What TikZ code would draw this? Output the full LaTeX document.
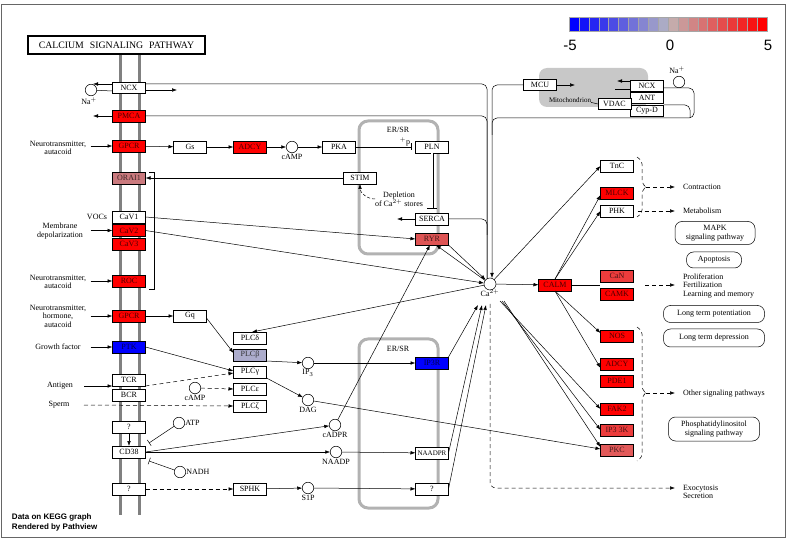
\documentclass[tikz,border=0pt]{standalone}
\usepackage{fontspec}
\setmainfont{Liberation Serif}
\newfontfamily\keggsans{Liberation Sans}
\usetikzlibrary{positioning}
\usetikzlibrary{calc}
\usetikzlibrary{arrows.meta}
\definecolor{upred}{RGB}{255,0,0}
\definecolor{midred}{RGB}{222,84,84}
\definecolor{rosered}{RGB}{202,122,126}
\definecolor{lightred}{RGB}{226,90,90}
\definecolor{canred}{RGB}{236,60,60}
\definecolor{downblue}{RGB}{0,0,255}
\definecolor{lavender}{RGB}{172,172,204}
\definecolor{keymid}{RGB}{190,190,190}
\definecolor{ergray}{RGB}{178,178,178}
\definecolor{mitogray}{RGB}{200,200,200}
\tikzset{
	>={Latex[length=5pt,width=3.6pt]},
	every node/.style={font=\fontsize{8}{8.6}\selectfont,inner sep=0pt,outer sep=0pt},
	every path/.style={line width=0.5pt},
	gene/.style={draw,fill=white,minimum width=33pt,minimum height=12pt},
	hit/.style={gene,fill=#1,text=#1!30!black},
	cpd/.style={circle,draw,fill=white,minimum size=11.5pt},
	cpdlabel/.style={label={[label distance=1pt]below:#1}},
	membrane/.style={draw=gray,line width=3pt},
	ersr/.style={draw=ergray,line width=3pt,rounded corners=9pt},
	pathbox/.style={draw,rounded corners=7pt,align=center},
	outcome/.style={align=left,anchor=west},
	bracket/.style={dashed,dash pattern=on 4pt off 3pt,rounded corners=3pt},
	inhibit/.style={-{Bar[width=7pt]}},
	indirect/.style={->,dashed,dash pattern=on 4pt off 3pt}
}

\begin{document}
\begin{tikzpicture}[x=1pt,y=-1pt]
	\useasboundingbox (0,0) rectangle (788,540);
	% Frame, title and colour key
	\draw[black!60,line width=1pt] (1,5) rectangle (785,537);
	\node (title) [draw,line width=1.5pt,minimum width=177pt,minimum height=18pt,font=\fontsize{9.8}{10}\selectfont] at (116.5,45) {CALCIUM\hspace{3.5pt} SIGNALING\hspace{3.5pt} PATHWAY};
	\foreach \i in {0,...,19}{
		\ifnum\i<10
			\pgfmathtruncatemacro{\p}{100-10*\i}
			\colorlet{keycol}{downblue!\p!keymid}
		\else
			\pgfmathtruncatemacro{\p}{10*(\i-9)}
			\colorlet{keycol}{upred!\p!keymid}
		\fi
		\draw[black!35,line width=0.3pt,fill=keycol] (569+9.9*\i,17) rectangle ++(9.9,14);
	}
	\node (keyneg) [font=\keggsans\fontsize{15}{15}\selectfont] at (570,45) {-5};
	\node (keyzero) [font=\keggsans\fontsize{15}{15}\selectfont] at (670,45) {0};
	\node (keypos) [font=\keggsans\fontsize{15}{15}\selectfont] at (768,45) {5};
	\node (credit) [anchor=north west,align=left,font=\keggsans\bfseries\fontsize{8}{10}\selectfont] at (12,514) {Data on KEGG graph\\Rendered by Pathview};

	% Membrane and compartments
	\draw[membrane] (120,55) -- (120,515);
	\draw[membrane] (139,55) -- (139,515);
	\draw[ersr] (359,121) rectangle (438,254);
	\draw[ersr] (359,339) rectangle (438,508);
	\node (erone) at (398,130) {ER/SR};
	\node (ertwo) at (398,349) {ER/SR};
	\fill[mitogray,rounded corners=8pt] (539,68) rectangle (648,107);
	\node (mito) [font=\fontsize{7}{7}\selectfont] at (570,100) {Mitochondrion};

	% Membrane proteins
	\node (ncx) [gene,minimum height=11pt] at (129,88) {NCX};
	\node (pmca) [hit=upred] at (129,116) {PMCA};
	\node (gpcra) [hit=upred] at (129,146) {GPCR};
	\node (orai) [hit=rosered] at (129,178) {ORAI1};
	\node (cavone) [gene] at (129,217) {CaV1};
	\node (cavtwo) [hit=upred,below=1.5pt of cavone] {CaV2};
	\node (cavthree) [hit=upred,below=1.5pt of cavtwo] {CaV3};
	\node (roc) [hit=upred] at (129,281) {ROC};
	\node (gpcrb) [hit=upred] at (129,316) {GPCR};
	\node (ptk) [hit=downblue] at (129,347) {PTK};
	\node (tcr) [gene] at (129,380) {TCR};
	\node (bcr) [gene,below=3pt of tcr] {BCR};
	\node (qa) [gene] at (129,427) {?};
	\node (cd) [gene] at (129,452) {CD38};
	\node (qb) [gene] at (129,489) {?};
	\node (naa) [cpd] at (91,90) {};
	\node (naalbl) at (89,101) {Na$^{+}$};

	% Stimuli
	\node (stima) [align=center] at (58,148) {Neurotransmitter,\\autacoid};
	\node (vocs) at (97,217) {VOCs};
	\node (depol) [align=center] at (60,231) {Membrane\\depolarization};
	\node (stimb) [align=center] at (58,282) {Neurotransmitter,\\autacoid};
	\node (stimc) [align=center] at (58,316) {Neurotransmitter,\\hormone,\\autacoid};
	\node (growth) at (58,347) {Growth factor};
	\node (antigen) at (60,386) {Antigen};
	\node (sperm) at (59,405) {Sperm};

	% cAMP branch and ER/SR
	\node (gs) [gene] at (190,147) {Gs};
	\node (adcya) [hit=upred] at (250,147) {ADCY};
	\node (camp) [cpd,cpdlabel=cAMP] at (292,147) {};
	\node (pka) [gene] at (339,147) {PKA};
	\node (pln) [gene] at (432,147) {PLN};
	\node (plus) at (405,142) {$^{+}$p};
	\node (stim) [gene] at (360,178) {STIM};
	\node (depl) [align=center] at (399,199) {Depletion\\of Ca$^{2+}$ stores};
	\node (serca) [gene] at (432,219) {SERCA};
	\node (ryr) [hit=midred] at (432,239) {RYR};

	% PLC branch
	\node (gq) [gene] at (190,316) {Gq};
	\node (plcd) [gene] at (250,338) {PLCδ};
	\node (plcb) [hit=lavender,text=black!80,below=5pt of plcd] {PLCβ};
	\node (plcg) [gene,below=5pt of plcb] {PLCγ};
	\node (plce) [gene,below=5pt of plcg] {PLCε};
	\node (plcz) [gene,below=5pt of plce] {PLCζ};
	\node (campb) [cpd,cpdlabel=cAMP] at (195,388) {};
	\node (ip3) [cpd,cpdlabel=IP$_3$] at (308,363) {};
	\node (dag) [cpd,cpdlabel=DAG] at (308,400) {};
	\node (ip3r) [hit=downblue] at (432,363) {IP3R};

	% CD38 branch
	\node (atp) [cpd,label={[label distance=0.5pt]right:ATP}] at (179,423) {};
	\node (nadh) [cpd,label={[label distance=0.5pt]right:NADH}] at (180,472) {};
	\node (cadpr) [cpd,cpdlabel=cADPR] at (335,425) {};
	\node (naadp) [cpd,cpdlabel=NAADP] at (336,452) {};
	\node (sphk) [gene] at (250,489) {SPHK};
	\node (sip) [cpd,cpdlabel=S1P] at (308,488) {};
	\node (naadpr) [gene,font=\fontsize{7}{7}\selectfont] at (432,453) {NAADPR};
	\node (qc) [gene] at (432,489) {?};

	% Mitochondrion
	\node (mcu) [gene,minimum height=11pt] at (540,85) {MCU};
	\node (ncxm) [gene,minimum height=11pt] at (647,86) {NCX};
	\node (ant) [gene,minimum height=11pt,below=1pt of ncxm] {ANT};
	\node (cypd) [gene,minimum height=11pt,below=1.5pt of ant] {Cyp-D};
	\node (vdac) [gene,minimum height=11pt] at (614.5,104) {VDAC};
	\node (nab) [cpd] at (679,82) {};
	\node (nablbl) at (677,70) {Na$^{+}$};

	% Calcium and its targets
	\node (ca) [cpd,minimum size=12pt,label={[label distance=-0.5pt]below:Ca$^{2+}$}] at (490,284) {};
	\node (calm) [hit=upred] at (555,285) {CALM};
	\node (tnc) [gene] at (617,166) {TnC};
	\node (mlck) [hit=upred] at (617,193) {MLCK};
	\node (phk) [gene,below=6pt of mlck] {PHK};
	\node (can) [hit=canred] at (617,276) {CaN};
	\node (camk) [hit=upred,below=6pt of can] {CAMK};
	\node (nos) [hit=upred] at (617,336) {NOS};
	\node (adcyb) [hit=upred] at (617,364) {ADCY};
	\node (pde) [hit=upred,below=5pt of adcyb] {PDE1};
	\node (fak) [hit=upred] at (617,409) {FAK2};
	\node (ipk) [hit=canred,below=9pt of fak] {IP3 3K};
	\node (pkc) [hit=lightred,below=8pt of ipk] {PKC};

	% Outcomes and linked maps
	\node (contr) [outcome] at (683,187) {Contraction};
	\node (metab) [outcome] at (683,211) {Metabolism};
	\node (prolif) [outcome] at (683,286) {Proliferation\\Fertilization\\Learning and memory};
	\node (other) [outcome] at (683,394) {Other signaling pathways};
	\node (exo) [outcome] at (683,492) {Exocytosis\\Secretion};
	\node (mapk) [pathbox,minimum width=80pt,minimum height=23pt] at (715,233) {MAPK\\signaling pathway};
	\node (apop) [pathbox,minimum width=55pt,minimum height=16pt] at (714,260) {Apoptosis};
	\node (ltp) [pathbox,minimum width=101pt,minimum height=17pt] at (714,314) {Long term potentiation};
	\node (ltd) [pathbox,minimum width=101pt,minimum height=18pt] at (714,338) {Long term depression};
	\node (pis) [pathbox,minimum width=91pt,minimum height=24pt] at (714,429) {Phosphatidylinositol\\signaling pathway};

	% Free ends
	\coordinate (naout) at (93,84);
	\coordinate (caout) at (177,90);
	\coordinate (pmcaout) at (93,116);
	\coordinate (caleft) at (487,279);
	\coordinate (caright) at (492,278);
	\coordinate (mcuout) at (575,85);
	\coordinate (ncxmout) at (617,81);
	\coordinate (ncxmin) at (615,89);
	\coordinate (mitojoin) at (492,135);
	\coordinate (sercaout) at (397,219);
	\coordinate (sercajoin) at (487,235);
	\coordinate (antigenin) at (84,386);
	\coordinate (spermin) at (84,405);
	\coordinate (atpbar) at (149,443);
	\coordinate (nadhbar) at (149,461);
	\coordinate (cabota) at (478,305);
	\coordinate (cabotb) at (482,305);
	\coordinate (cabotc) at (486,305);
	\coordinate (cafana) at (500,301);
	\coordinate (cafanb) at (502,301);
	\coordinate (cafanc) at (504,301);
	\coordinate (camkjoin) at (600,285);
	\coordinate (exostart) at (490,304);
	\coordinate (exocorner) at (490,488);
	\foreach \g in {gpcra,cavtwo,roc,gpcrb,ptk}{
		\coordinate (\g in) at ([xshift=-22pt]\g.west);
		\draw[->] (\g in) -- (\g.west);
	}

	% Ion transport
	\draw[->] ([yshift=4pt]ncx.west) -- (naout);
	\draw (naa) -- ([yshift=-3pt]ncx.west);
	\draw[->] ([yshift=-2pt]ncx.east) -- (caout);
	\draw[rounded corners=5pt] ([yshift=4pt]ncx.east) -- (487,84) -- (caleft);
	\draw[->] (pmca.west) -- (pmcaout);
	\draw[rounded corners=5pt] (pmca.east) -- (487,116) -- (caleft);
	\draw[->,rounded corners=5pt] (mcu.west) -- (492,85) -- (caright);
	\draw[->] (mcu.east) -- (mcuout);
	\draw[->] ([yshift=5pt]ncxm.west) -- (ncxmout);
	\draw (ncxmin) -- ([yshift=-3pt]ncxm.west);
	\draw[rounded corners=5pt] ([yshift=-2pt]ncxm.east) -- (694,88) -- (694,118) -- (492,118) -- (mitojoin);
	\draw[rounded corners=5pt] (cypd.north east) -- (690,105) -- (690,118);
	\draw (mito.base east) -- (vdac.west);

	% cAMP branch and ER/SR
	\path (gpcra) edge[->] (gs);
	\path (gs) edge[->] (adcya);
	\path (adcya) edge[->] (camp);
	\path (camp) edge[->] (pka);
	\draw[inhibit] (pka) -- ([xshift=-4pt]pln.west);
	\draw[double distance=2pt] (pln.south) -- ([yshift=5pt]serca.north);
	\draw ([xshift=-5pt,yshift=5pt]serca.north) -- ([xshift=5pt,yshift=5pt]serca.north);
	\draw[->] (serca.west) -- (sercaout);
	\draw[rounded corners=5pt] (serca.east) -- (487,219) -- (sercajoin);
	\draw[->] (stim.west) -- (orai.east);
	\draw (149,172) -- (154,172) -- (154,289) -- (149,289);
	\draw[->,dashed,dash pattern=on 3pt off 2pt] (depl.west) to[out=180,in=-90] (stim.south);
	\draw[->] (cavone.east) -- (ryr.west);
	\draw[->] (cavtwo.east) -- (ca);
	\draw[->] (ryr.south east) -- (ca);
	\draw[->] (ca) -- ([xshift=4pt]ryr.south);
	\draw[->] (cadpr) -- ([xshift=-2pt]ryr.south);

	% PLC branch
	\draw[->] (ca) -- ([xshift=2pt]plcd.north);
	\draw[->] (gpcrb) -- (gq);
	\draw[->] ([yshift=-2pt]gq.east) -- ([yshift=2pt]plcb.west);
	\draw[->] (ptk.east) -- ([yshift=1pt]plcg.west);
	\draw[->] (antigenin) -- (tcr.south west);
	\draw[indirect] (tcr.south east) -- ([yshift=-1pt]plcg.west);
	\draw[indirect] (campb) -- (plce.west);
	\draw[indirect] (spermin) -- (plcz.west);
	\draw[->] (plcb.south east) -- (ip3);
	\draw[->] (plcg.south east) -- (dag);
	\draw[->] (ip3) -- (ip3r);
	\draw[->] (dag) -- ([yshift=1pt]pkc.west);

	% CD38 branch
	\draw[->] (qa) -- (cd);
	\draw[inhibit] (atp) -- (atpbar);
	\draw[inhibit] (nadh) -- (nadhbar);
	\draw[->] (cd.east) -- (cadpr);
	\draw[->] (cd.east) -- (naadp);
	\draw[->] (naadp) -- (naadpr);
	\draw[indirect] (qb) -- (sphk);
	\draw[->] (sphk) -- (sip);
	\draw[->] (sip) -- (qc);
	\draw[->] (ip3r.north east) -- (cabota);
	\draw[->] (naadpr.east) -- (cabotb);
	\draw[->] (qc.east) -- (cabotc);

	% Calcium targets
	\draw[->] (ca) -- (calm);
	\draw[->] (ca) -- (tnc.west);
	\draw[->] (calm.north) -- ([yshift=-2pt]mlck.west);
	\draw[->] (calm.north) -- (phk.west);
	\draw[->] (calm.south) -- ([yshift=3pt]nos.west);
	\draw[->] (calm.south) -- ([yshift=-4pt]adcyb.west);
	\draw (calm.east) -- (camkjoin);
	\draw[->] (cafana) -- (fak.west);
	\draw[->] (cafanb) -- (ipk.west);
	\draw[->] (cafanc) -- ([yshift=3pt]pkc.west);
	\draw[indirect,rounded corners=6pt,shorten >=8pt] (exostart) -- (exocorner) -- (exocorner -| exo.west);

	% Brackets to outcomes
	\draw[bracket] (637,157) -- (642,161) -- (642,183) -- (646,187) coordinate (tipa) -- (642,191) -- (642,213) -- (637,217);
	\draw[bracket] (637,327) -- (642,331) -- (642,389) -- (646,393) coordinate (tipb) -- (642,397) -- (642,457) -- (637,461);
	\draw[indirect,shorten >=8pt] (tipa) -- (contr.west);
	\draw[indirect,shorten >=8pt] ([xshift=4pt]phk.east) -- (metab.west);
	\draw[indirect,shorten >=8pt] ([xshift=45pt]camkjoin) -- (camkjoin -| prolif.west);
	\draw[indirect,shorten >=8pt] (tipb) -- (tipb -| other.west);
\end{tikzpicture}
\end{document}
